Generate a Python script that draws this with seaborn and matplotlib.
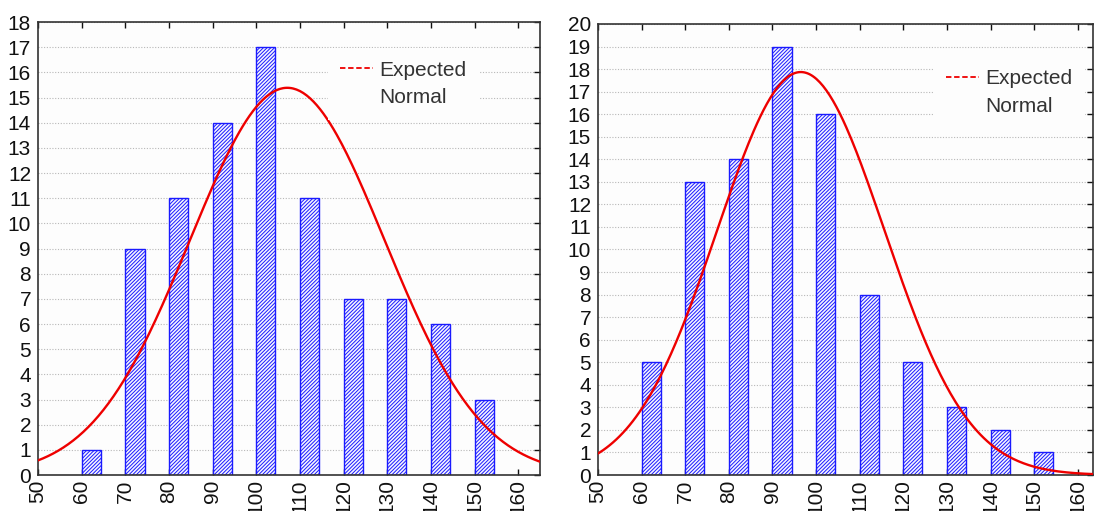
import numpy as np
import pandas as pd
import matplotlib
matplotlib.use("Agg")
import matplotlib.pyplot as plt
import seaborn as sns
from matplotlib.lines import Line2D

# ---- data ----
bin_starts = [60, 70, 80, 90, 100, 110, 120, 130, 140, 150]
counts_left = [1, 9, 11, 14, 17, 11, 7, 7, 6, 3]
counts_right = [5, 13, 14, 19, 16, 8, 5, 3, 2, 1]
xticks = [50, 60, 70, 80, 90, 100, 110, 120, 130, 140, 150, 160]
yticks_left = list(range(0, 19))
yticks_right = list(range(0, 21))
# expected normal parameters (n, mean, sd, bin width)
n_left, mean_left, sd_left = 86, 107.1, 22.3
n_right, mean_right, sd_right = 86, 96.5, 19.2
bin_width = 10

sns.set_theme(style="white")
plt.rcParams['font.family'] = ['Liberation Sans', 'DejaVu Sans']
plt.rcParams['hatch.linewidth'] = 0.7

fig = plt.figure(figsize=(10.94, 5.11), dpi=100)
W, H = 1094, 511
def axpos(l, r, t, b):
    return [l / W, 1 - b / H, (r - l) / W, (b - t) / H]

ax1 = fig.add_axes(axpos(38, 540, 22, 475))
ax2 = fig.add_axes(axpos(598, 1093, 24, 475))

def normal_curve(n, mu, sd, xmin, xmax):
    xs = np.linspace(xmin, xmax, 300)
    ys = n * bin_width * np.exp(-0.5 * ((xs - mu) / sd) ** 2) / (sd * np.sqrt(2 * np.pi))
    return pd.DataFrame({"x": xs, "y": ys})

def draw(ax, counts, n, mu, sd, xlim, yticks, leg_anchor):
    ax.set_facecolor('#fdfdfd')
    for yv in yticks[1:]:
        ax.axhline(yv, color='#b8b8b8', lw=0.8, ls=(0, (1, 1.5)), zorder=0)
    ax.bar(bin_starts, counts, width=4.4, align='edge', facecolor='#f4f4ff',
           edgecolor='#1a1aff', hatch='/////////', linewidth=1.0, zorder=2)
    df = normal_curve(n, mu, sd, xlim[0], xlim[1])
    sns.lineplot(data=df, x="x", y="y", ax=ax, color='#ee0000', lw=1.7, zorder=3)
    ax.set_xlim(*xlim)
    ax.set_ylim(0, yticks[-1])
    ax.set_xticks(xticks)
    ax.set_xticklabels([str(v) for v in xticks], rotation=90, fontsize=15)
    ax.set_yticks(yticks)
    ax.set_yticklabels([str(v) for v in yticks], fontsize=15)
    ax.set_xlabel("")
    ax.set_ylabel("")
    ax.tick_params(axis='both', which='both', direction='in', length=4, width=1,
                   top=True, right=True, bottom=True, left=False, pad=3, colors='#111111')
    ax.tick_params(axis='y', pad=5)
    for s in ax.spines.values():
        s.set_color('#333333')
        s.set_linewidth(1.2)
    handles = [Line2D([0], [0], color='#ee0000', lw=1.3, ls=(0, (3, 1.5))),
               Line2D([0], [0], color='none')]
    leg = ax.legend(handles, ['Expected', 'Normal'], loc='upper left',
                    bbox_to_anchor=leg_anchor, frameon=True, fontsize=15,
                    handlelength=1.6, handletextpad=0.3, labelspacing=0.4,
                    borderpad=0.6, fancybox=False)
    leg.get_frame().set_facecolor('#fdfdfd')
    leg.get_frame().set_edgecolor('none')
    leg.get_frame().set_alpha(1)
    for t in leg.get_texts():
        t.set_color('#333333')
    leg.set_zorder(5)

draw(ax1, counts_left, n_left, mean_left, sd_left, (50, 165), yticks_left, (0.556, 0.965))
draw(ax2, counts_right, n_right, mean_right, sd_right, (50, 163.5), yticks_right, (0.657, 0.95))

fig.savefig("out.png", dpi=100, facecolor='white')
